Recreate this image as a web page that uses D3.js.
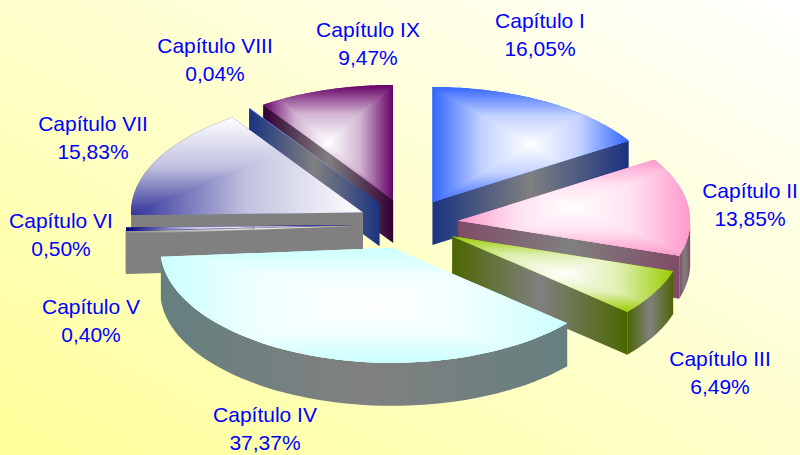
<!DOCTYPE html>
<html>
<head>
<meta charset="utf-8">
<script src="https://cdn.jsdelivr.net/npm/d3@7"></script>
<style>
  html, body { margin: 0; padding: 0; background: #fff; }
  svg { display: block; }
  text { font-family: "Liberation Sans", Arial, sans-serif; font-size: 21px; fill: #0000ff; text-anchor: middle; }
</style>
</head>
<body>
<div id="chart"></div>
<script>
// datos
const capitulos = ["Capítulo I", "Capítulo II", "Capítulo III", "Capítulo IV", "Capítulo V", "Capítulo VI", "Capítulo VII", "Capítulo VIII", "Capítulo IX"];
const porcentajes = [16.05, 13.85, 6.49, 37.37, 0.40, 0.50, 15.83, 0.04, 9.47];

// estilo de cada porcion
const colores = ["#3366ff", "#ff99cc", "#99cc00", "#ccffff", "#808080", "#000080", "#333399", "#3366ff", "#660066"];
const paredes = ["#1a3380", "#804c66", "#4c6600", "#667f7f", null, "#808080", "#808080", "#1a3380", "#330033"];
const ordenDibujo = [0, 1, 2, 8, 7, 6, 5, 4, 3];
const posEtiquetas = [[540, 28], [750, 198], [720, 366], [265, 422], [91, 314], [61, 228], [93, 131], [215, 53], [368, 37]];

const width = 800, height = 455;
const cx = 408, cy = 224, rx = 232, ry = 115, alto = 43, explode = 0.218;

const svg = d3.select("#chart").append("svg").attr("width", width).attr("height", height);
const defs = svg.append("defs");

// fondo
const bg = defs.append("linearGradient").attr("id", "fondo")
  .attr("x1", 0).attr("y1", 1).attr("x2", 1).attr("y2", 0);
bg.append("stop").attr("offset", 0).attr("stop-color", "#ffff99");
bg.append("stop").attr("offset", 1).attr("stop-color", "#ffffff");
svg.append("rect").attr("width", width).attr("height", height).attr("fill", "url(#fondo)");

const x = d3.scaleLinear().domain([-1, 1]).range([cx - rx, cx + rx]);
const y = d3.scaleLinear().domain([-1, 1]).range([cy - ry, cy + ry]);
const line = d3.line();
const arcs = d3.pie().sort(null).value(d => d).startAngle(0).endAngle(2 * Math.PI)(porcentajes);

let gid = 0;
function gradLineal(x1, y1, x2, y2, stops) {
  const id = "g" + (gid++);
  const g = defs.append("linearGradient").attr("id", id).attr("gradientUnits", "userSpaceOnUse")
    .attr("x1", x1).attr("y1", y1).attr("x2", x2).attr("y2", y2);
  stops.forEach((c, i) => g.append("stop").attr("offset", i / (stops.length - 1)).attr("stop-color", c));
  return "url(#" + id + ")";
}

// pared vertical con degradado horizontal oscuro-gris-oscuro
function pared(g, puntos, color) {
  if (puntos.length < 2 || !color) return;
  const xs = d3.extent(puntos, p => p[0]);
  const contorno = puntos.concat(puntos.slice().reverse().map(p => [p[0], p[1] + alto]));
  g.append("path").attr("d", line(contorno) + "Z")
    .attr("fill", gradLineal(xs[0], 0, xs[1], 0, [color, "#808080", color]));
}

ordenDibujo.forEach(i => {
  const a = arcs[i];
  const mid = (a.startAngle + a.endAngle) / 2;
  const ox = explode * Math.sin(mid), oy = -explode * Math.cos(mid);
  const pt = ang => [x(ox + Math.sin(ang)), y(oy - Math.cos(ang))];
  const apex = [x(ox), y(oy)];
  const angulos = d3.range(0, 61).map(k => a.startAngle + (a.endAngle - a.startAngle) * k / 60);
  const borde = angulos.map(pt);
  const g = svg.append("g").attr("class", "porcion");

  // paredes que mira el observador
  const frente = angulos.filter(t => Math.cos(t) < 0);
  if (a.startAngle > Math.PI) pared(g, [apex, pt(a.startAngle)], paredes[i]);
  if (a.endAngle < Math.PI) pared(g, [apex, pt(a.endAngle)], paredes[i]);
  pared(g, frente.map(pt), paredes[i]);

  const tapa = line([apex].concat(borde)) + "Z";

  // Capitulo V casi no se ve: una raya clara sobre el gris
  if (i === 4) {
    g.append("path").attr("d", tapa).attr("fill", gradLineal(0, 229, 0, 233, ["#eeeef4", colores[i]]));
    return;
  }

  // tapa: degradado de trayectoria rectangular (cuatro triangulos recortados)
  defs.append("clipPath").attr("id", "clip" + i).append("path").attr("d", tapa);
  const todos = [apex].concat(borde);
  const [x0, x1] = d3.extent(todos, p => p[0]);
  const [y0, y1] = d3.extent(todos, p => p[1]);

  // Capitulo VII va al reves: oscuro en la esquina inferior izquierda
  const invertido = i === 6;
  const c = invertido ? [x0, y1] : [(x0 + x1) / 2, (y0 + y1) / 2];
  const medio = d3.interpolateRgb("#ffffff", colores[i])(0.3);
  const stops = invertido ? [colores[i], medio, "#ffffff"] : ["#ffffff", medio, colores[i]];
  const caps = g.append("g").attr("clip-path", "url(#clip" + i + ")").attr("shape-rendering", "crispEdges");
  caps.append("rect").attr("x", x0).attr("y", y0).attr("width", x1 - x0).attr("height", y1 - y0).attr("fill", colores[i]);
  [
    [[x0, y0], [x1, y0], c[0], c[1], c[0], y0],
    [[x1, y0], [x1, y1], c[0], c[1], x1, c[1]],
    [[x1, y1], [x0, y1], c[0], c[1], c[0], y1],
    [[x0, y1], [x0, y0], c[0], c[1], x0, c[1]]
  ].forEach(t => {
    caps.append("path").attr("d", line([c, t[0], t[1]]) + "Z")
      .attr("fill", gradLineal(t[2], t[3], t[4], t[5], stops));
  });
});

// etiquetas
const fmt = v => d3.format(".2f")(v).replace(".", ",");
capitulos.forEach((nombre, i) => {
  const t = svg.append("text").attr("x", posEtiquetas[i][0]).attr("y", posEtiquetas[i][1]);
  t.append("tspan").attr("x", posEtiquetas[i][0]).text(nombre);
  t.append("tspan").attr("x", posEtiquetas[i][0]).attr("dy", 28).text(fmt(porcentajes[i]) + "%");
});
</script>
</body>
</html>
